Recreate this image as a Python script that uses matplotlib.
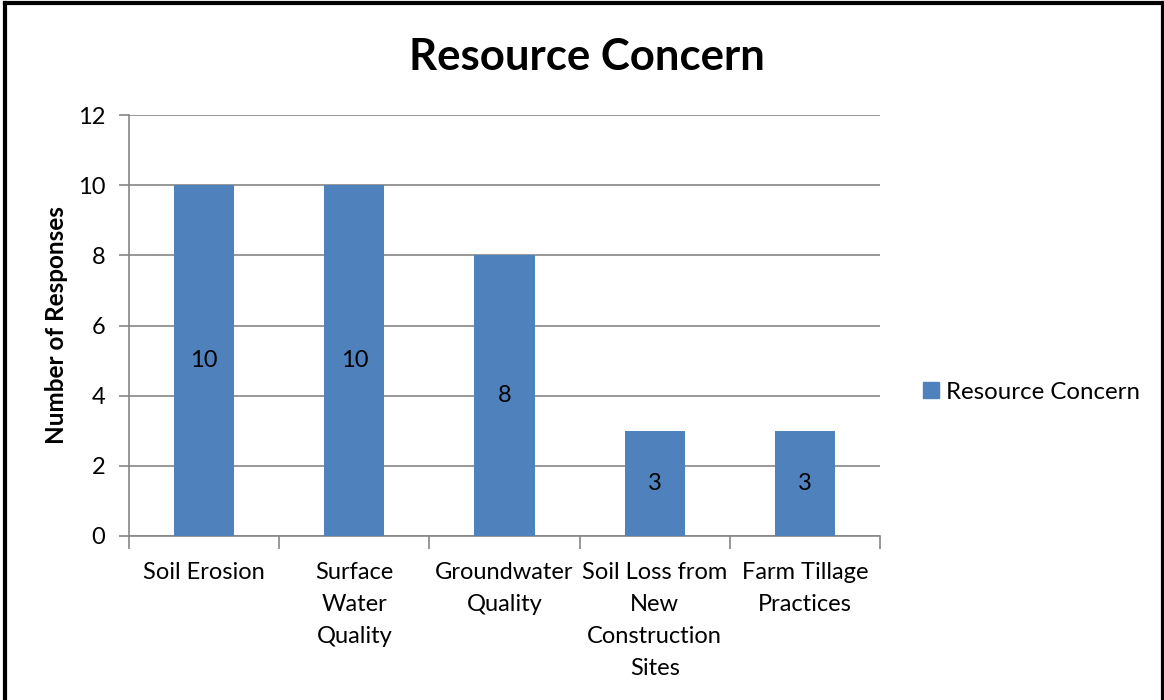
import numpy as np
import matplotlib
matplotlib.use('Agg')
import matplotlib.pyplot as plt
from matplotlib.lines import Line2D

plt.rcParams['font.family'] = ['Lato', 'DejaVu Sans']

categories = ['Soil Erosion', 'Surface\nWater\nQuality', 'Groundwater\nQuality',
              'Soil Loss from\nNew\nConstruction\nSites', 'Farm Tillage\nPractices']
values = [10, 10, 8, 3, 3]
series_name = 'Resource Concern'
bar_color = '#4F81BD'
grid_color = '#868686'

W, H = 1164, 700
fig = plt.figure(figsize=(W / 100, H / 100), dpi=100)

# plot area in pixels: left 129, right 880, top 115, bottom 536
ax = fig.add_axes([129 / W, 1 - 536 / H, (880 - 129) / W, (536 - 115) / H])

x = np.arange(len(values))
bars = ax.bar(x, values, width=0.4, color=bar_color, zorder=3, label=series_name)

ax.set_xlim(-0.5, len(values) - 0.5)
ax.set_ylim(0, 12)
ax.set_yticks(np.arange(0, 13, 2))
ax.yaxis.grid(True, color=grid_color, linewidth=1.2, zorder=0)

for s in ['top', 'right']:
    ax.spines[s].set_visible(False)
for s in ['left', 'bottom']:
    ax.spines[s].set_color(grid_color)
    ax.spines[s].set_linewidth(1.2)

ax.tick_params(axis='y', length=7, width=1.2, color=grid_color, labelsize=17, pad=10)
ax.set_xticks(x)
ax.set_xticklabels(categories, fontsize=17, linespacing=1.63)
ax.tick_params(axis='x', length=0, pad=19)
# category boundary tick marks
ax.set_xticks(np.arange(-0.5, len(values), 1), minor=True)
ax.tick_params(axis='x', which='minor', length=9, width=1.2, color=grid_color)

for b, v in zip(bars, values):
    ax.text(b.get_x() + b.get_width() / 2, v / 2, str(v), ha='center', va='center',
            fontsize=17, color='black', zorder=4)

ax.set_ylabel('Number of Responses', fontsize=17.5, fontweight='bold')
ax.yaxis.label.set_va('center')
ax.yaxis.set_label_coords((57 - 129) / 751, 0.5)

fig.text(587 / W, 1 - 57 / H, 'Resource Concern', ha='center', va='center',
         fontsize=31.5, fontweight='bold')

# legend
fig.legend(handles=[plt.Rectangle((0, 0), 1, 1, color=bar_color)], labels=[series_name],
           loc='center left', bbox_to_anchor=(923 / W, 1 - 392 / H), frameon=False,
           fontsize=17.3, handlelength=0.65, handleheight=0.65, handletextpad=0.3,
           borderpad=0, borderaxespad=0)

# outer border lines
fig.add_artist(Line2D([5 / W, 5 / W], [0, 1 - 3 / H], color='black', linewidth=3))
fig.add_artist(Line2D([5 / W, 1], [1 - 3 / H, 1 - 3 / H], color='black', linewidth=3))
fig.add_artist(Line2D([1 - 1 / W, 1 - 1 / W], [0, 1 - 3 / H], color='black', linewidth=3))

fig.savefig('out.png', dpi=100, facecolor='white')
